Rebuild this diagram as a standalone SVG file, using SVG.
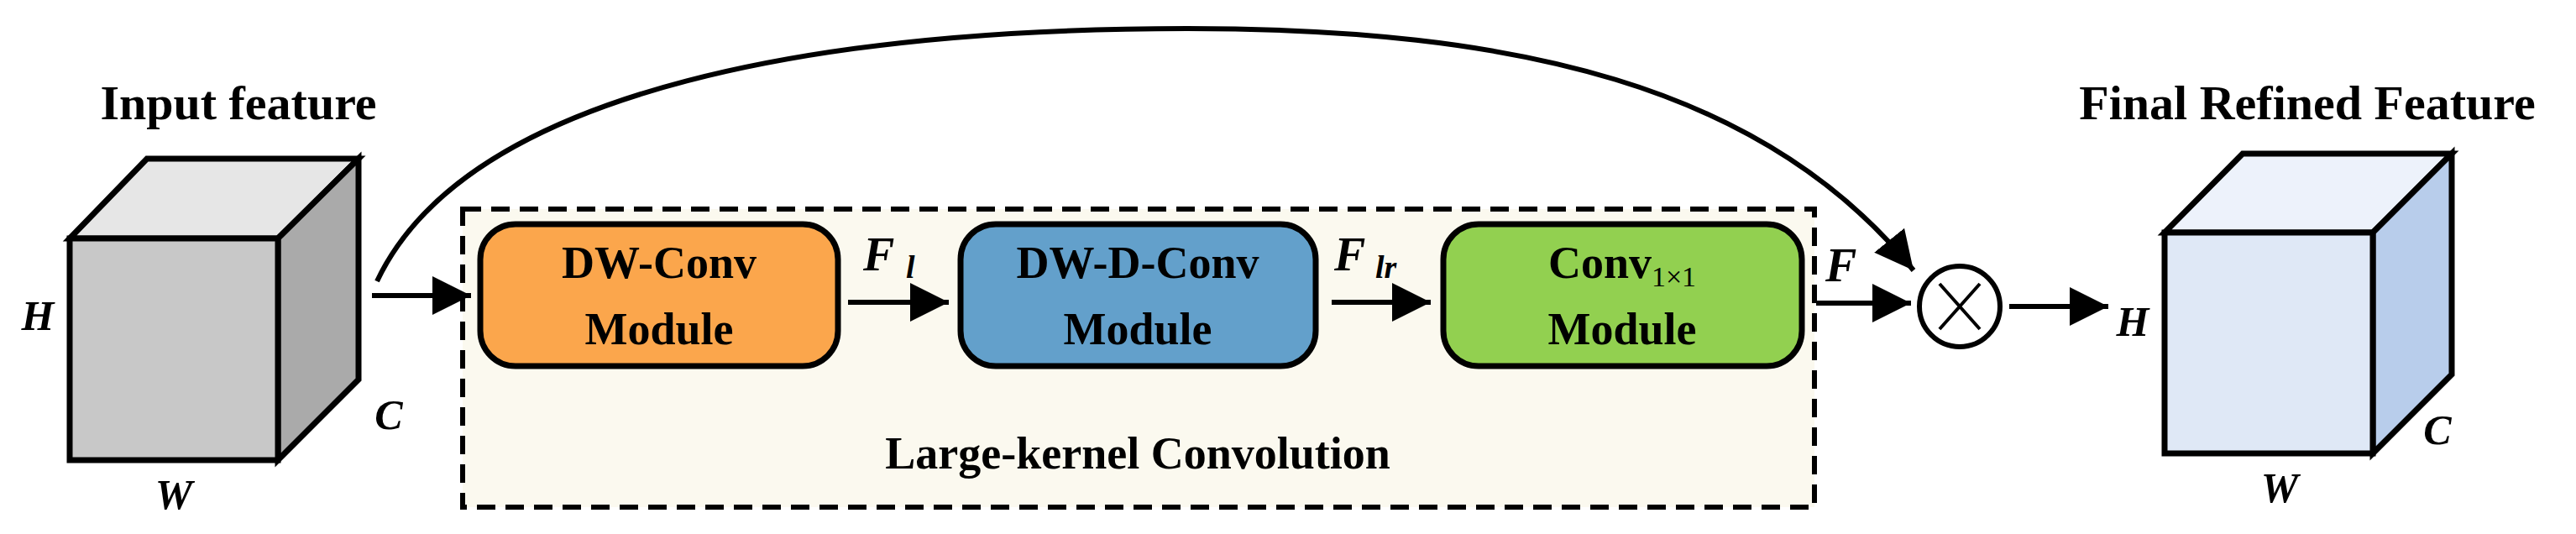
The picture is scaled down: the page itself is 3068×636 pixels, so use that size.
<svg xmlns="http://www.w3.org/2000/svg" width="3068" height="636" viewBox="0 0 3068 636">
<style>
.t{font-family:"Liberation Serif",serif;font-weight:bold;fill:#000}
.i{font-family:"Liberation Serif",serif;font-weight:bold;font-style:italic;fill:#000}
.cube{stroke:#000;stroke-width:7;stroke-linejoin:miter}
.box{stroke:#000;stroke-width:7}
.ln{stroke:#000;stroke-width:6;fill:none}
</style>
<defs>
<marker id="ah" markerWidth="10" markerHeight="10" refX="9" refY="5" orient="auto" markerUnits="userSpaceOnUse" viewBox="0 0 10 10">
<path d="M0,0 L10,5 L0,10 Z" fill="#000"/>
</marker>
<marker id="ah2" viewBox="0 0 10 10" refX="10" refY="5" markerWidth="46" markerHeight="46" orient="auto" markerUnits="userSpaceOnUse">
<path d="M0,0 L10,5 L0,10 Z" fill="#000"/>
</marker>
</defs>
<rect width="3068" height="636" fill="#fff"/>
<g id="input-cube">
<polygon class="cube" points="83,284 175,189 427,189 331,284" fill="#e6e6e6"/>
<polygon class="cube" points="331,284 427,189 427,452 331,548" fill="#aaaaaa"/>
<rect class="cube" x="83" y="284" width="248" height="264" fill="#c8c8c8"/>
<text class="t" x="284" y="142" font-size="58" text-anchor="middle">Input feature</text>
<text class="i" x="45" y="393" font-size="50" text-anchor="middle">H</text>
<text class="i" x="463" y="511" font-size="50" text-anchor="middle">C</text>
<text class="i" x="207" y="606" font-size="50" text-anchor="middle">W</text>
</g>
<g id="lk-group">
<rect x="551" y="249" width="1610" height="355" fill="#fbf9ef" stroke="#000" stroke-width="6" stroke-dasharray="22,12"/>
<text class="t" x="1355" y="558" font-size="54" text-anchor="middle">Large-kernel Convolution</text>
</g>
<g id="dwconv">
<rect class="box" x="572" y="267" width="426" height="169" rx="42" fill="#fba64c"/>
<text class="t" x="785" y="331" font-size="54" text-anchor="middle">DW-Conv</text>
<text class="t" x="785" y="410" font-size="54" text-anchor="middle">Module</text>
</g>
<g id="dwdconv">
<rect class="box" x="1144" y="267" width="423" height="169" rx="42" fill="#63a0cb"/>
<text class="t" x="1355" y="331" font-size="54" text-anchor="middle">DW-D-Conv</text>
<text class="t" x="1355" y="410" font-size="54" text-anchor="middle">Module</text>
</g>
<g id="conv1x1">
<rect class="box" x="1719" y="267" width="427" height="169" rx="42" fill="#92d050"/>
<text class="t" x="1932" y="331" font-size="54" text-anchor="middle">Conv<tspan font-size="34" font-weight="normal" dy="10">1×1</tspan></text>
<text class="t" x="1932" y="410" font-size="54" text-anchor="middle">Module</text>
</g>
<g id="multiply">
<circle cx="2334" cy="365" r="48" fill="#fff" stroke="#000" stroke-width="6"/>
<path d="M2310,338 L2358,392 M2358,338 L2310,392" stroke="#000" stroke-width="4"/>
</g>
<g id="output-cube">
<polygon class="cube" points="2578,277 2671,183 2920,183 2826,277" fill="#edf2fb"/>
<polygon class="cube" points="2826,277 2920,183 2920,446 2826,540" fill="#b8cdeb"/>
<rect class="cube" x="2578" y="277" width="248" height="263" fill="#dfe8f6"/>
<text class="t" x="2748" y="142" font-size="58" text-anchor="middle">Final Refined Feature</text>
<text class="i" x="2540" y="400" font-size="50" text-anchor="middle">H</text>
<text class="i" x="2903" y="529" font-size="50" text-anchor="middle">C</text>
<text class="i" x="2715" y="598" font-size="50" text-anchor="middle">W</text>
</g>
<g id="connectors">
<line class="ln" x1="443" y1="352" x2="561" y2="352" marker-end="url(#ah2)"/>
<line class="ln" x1="1010" y1="360" x2="1130" y2="360" marker-end="url(#ah2)"/>
<line class="ln" x1="1586" y1="360" x2="1704" y2="360" marker-end="url(#ah2)"/>
<line class="ln" x1="2163" y1="361" x2="2276" y2="361" marker-end="url(#ah2)"/>
<line class="ln" x1="2393" y1="365" x2="2511" y2="365" marker-end="url(#ah2)"/>
<path class="ln" d="M449,335 C560,100 1000,34 1414,34 C1800,34 2100,100 2279,322" marker-end="url(#ah2)"/>
<text class="i" x="1028" y="322" font-size="56">F</text>
<text class="i" x="1079" y="331" font-size="38">l</text>
<text class="i" x="1589" y="322" font-size="56">F</text>
<text class="i" x="1638" y="331" font-size="38">lr</text>
<text class="i" x="2174" y="335" font-size="56">F</text>
</g>
</svg>
